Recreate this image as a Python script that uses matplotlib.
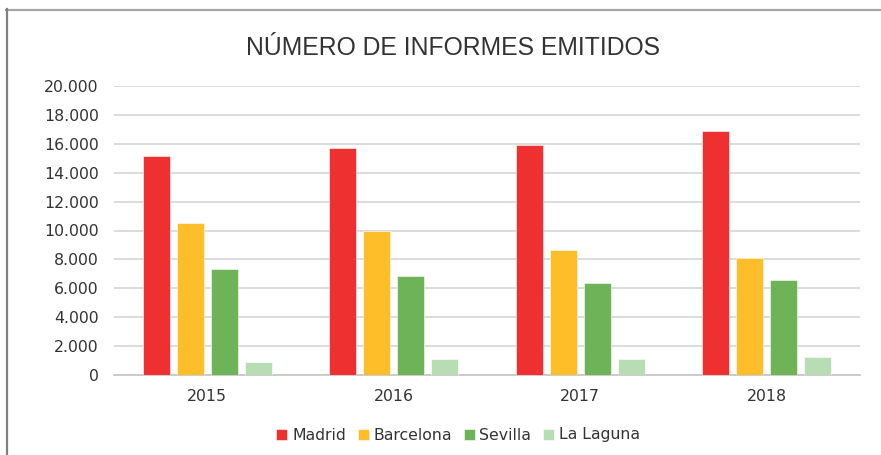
import matplotlib
matplotlib.use("Agg")
import matplotlib.pyplot as plt
from matplotlib.lines import Line2D
from matplotlib.ticker import FuncFormatter
from matplotlib import font_manager
import numpy as np

years = ["2015", "2016", "2017", "2018"]
madrid = [15150, 15700, 15950, 16900]
barcelona = [10500, 10000, 8630, 8100]
sevilla = [7350, 6850, 6370, 6570]
la_laguna = [880, 1090, 1130, 1220]
series_names = ["Madrid", "Barcelona", "Sevilla", "La Laguna"]
colors = ["#EE3030", "#FDBE2A", "#6FB359", "#B8DDB4"]
yticks = [0, 2000, 4000, 6000, 8000, 10000, 12000, 14000, 16000, 18000, 20000]

plt.rcParams['font.family'] = ['DejaVu Sans']

W, H = 881, 455
fig = plt.figure(figsize=(W / 100, H / 100), dpi=100)
ax = fig.add_axes([114 / W, 1 - 375 / H, (860 - 114) / W, 289 / H])

x = np.arange(len(years))
step = 34 / 186.5
width = 27 / 186.5
for i, (vals, name, c) in enumerate(zip([madrid, barcelona, sevilla, la_laguna], series_names, colors)):
    ax.bar(x + (i - 1.5) * step, vals, width, color=c, label=name, zorder=3,
           edgecolor="white", linewidth=0.4)

ax.set_xlim(-0.5, 3.5)
ax.set_ylim(0, 20000)
ax.set_yticks(yticks)
ax.yaxis.set_major_formatter(FuncFormatter(lambda v, p: f"{int(v):,}".replace(",", ".")))
ax.set_xticks(x)
ax.set_xticklabels(years)
ax.grid(axis="y", color="#D9D9D9", linewidth=1.3, zorder=0)
for s in ["top", "right", "left"]:
    ax.spines[s].set_visible(False)
ax.spines["bottom"].set_color("#C8C8C8")
ax.spines["bottom"].set_linewidth(1.3)
ax.tick_params(axis="both", length=0, labelsize=11.3, colors="#333333")
ax.tick_params(axis="y", pad=11)
ax.tick_params(axis="x", pad=10)

names = {f.name for f in font_manager.fontManager.ttflist}
if "Liberation Sans Narrow" in names:
    tfam, tsize = "Liberation Sans Narrow", 21.5
else:
    tfam, tsize = "Liberation Sans", 17.8
fig.text(453 / W, 1 - 48 / H, "NÚMERO DE INFORMES EMITIDOS", ha="center", va="center",
         fontsize=tsize, color="#333333", family=[tfam, "DejaVu Sans"])

fig.legend(loc="center", bbox_to_anchor=(458 / W, 1 - 435 / H), ncol=4, frameon=False,
           fontsize=11.3, handlelength=0.7, handleheight=0.7, handletextpad=0.3,
           columnspacing=0.75, labelcolor="#333333")

fig.add_artist(Line2D([6 / W, 1], [1 - 9.5 / H, 1 - 9.5 / H], color="#A6A6A6", linewidth=1.6,
                      transform=fig.transFigure))
fig.add_artist(Line2D([6.5 / W, 6.5 / W], [0, 1 - 9 / H], color="#808080", linewidth=1.6,
                      transform=fig.transFigure))

fig.savefig("out.png", dpi=100)
